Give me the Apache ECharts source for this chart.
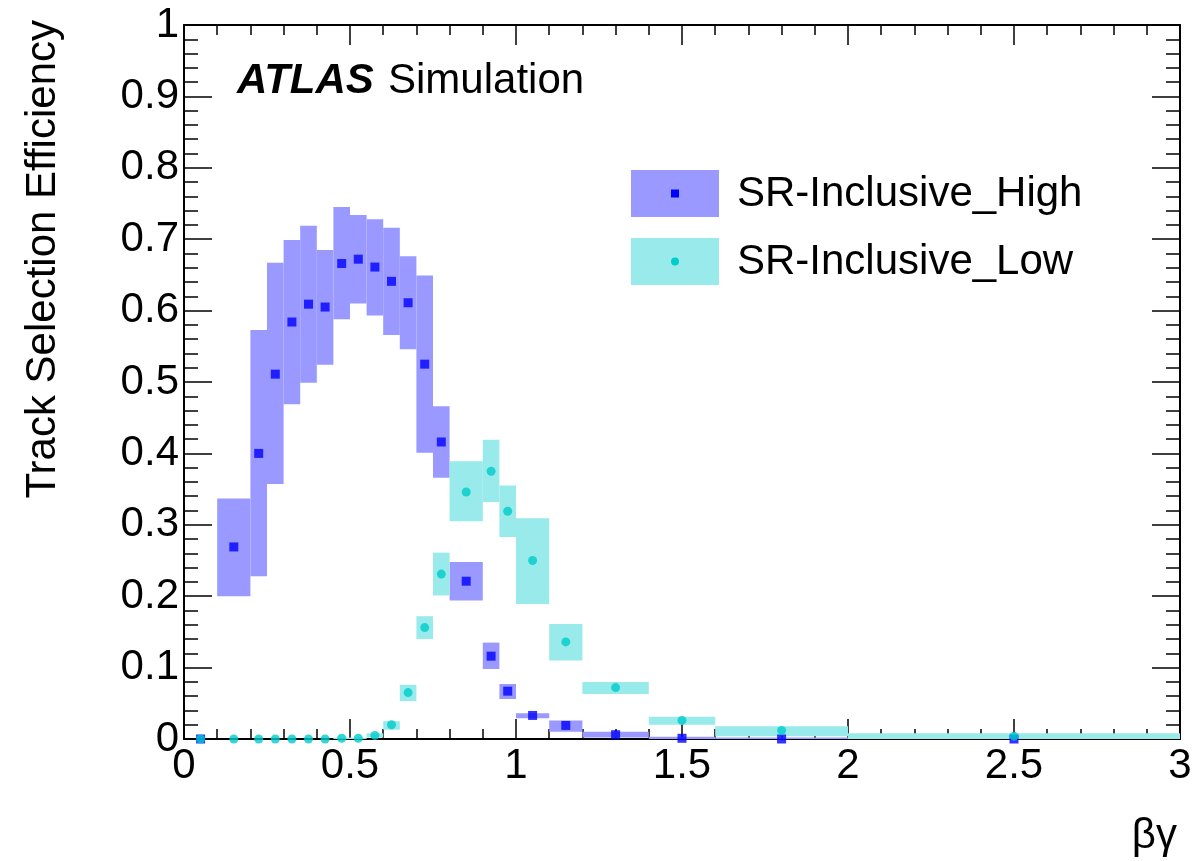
<!DOCTYPE html>
<html>
<head>
<meta charset="utf-8">
<script src="https://cdn.jsdelivr.net/npm/echarts@6/dist/echarts.min.js"></script>
<style>
html, body { margin: 0; padding: 0; background: #fff; }
#chart { width: 1204px; height: 861px; }
</style>
</head>
<body>
<div id="chart"></div>
<script>
// bin edges (beta*gamma)
const binLo = [0, 0.1, 0.2, 0.25, 0.3, 0.35, 0.4, 0.45, 0.5, 0.55, 0.6, 0.65, 0.7, 0.75, 0.8, 0.9, 0.95, 1.0, 1.1, 1.2, 1.4, 1.6, 2.0];
const binHi = [0.1, 0.2, 0.25, 0.3, 0.35, 0.4, 0.45, 0.5, 0.55, 0.6, 0.65, 0.7, 0.75, 0.8, 0.9, 0.95, 1.0, 1.1, 1.2, 1.4, 1.6, 2.0, 3.0];

// SR-Inclusive_High
const highVal  = [0, 0.269, 0.400, 0.511, 0.584, 0.609, 0.605, 0.666, 0.672, 0.661, 0.641, 0.611, 0.525, 0.416, 0.221, 0.116, 0.067, 0.033, 0.019, 0.006, 0.001, 0.000, 0.000];
const highDown = [0, 0.200, 0.228, 0.357, 0.469, 0.499, 0.524, 0.588, 0.610, 0.593, 0.566, 0.546, 0.401, 0.366, 0.194, 0.098, 0.056, 0.029, 0.010, 0.002, 0.000, 0.000, 0.000];
const highUp   = [0, 0.337, 0.573, 0.667, 0.699, 0.719, 0.685, 0.745, 0.734, 0.728, 0.716, 0.676, 0.649, 0.466, 0.248, 0.135, 0.077, 0.036, 0.026, 0.010, 0.003, 0.002, 0.001];

// SR-Inclusive_Low
const lowVal  = [0, 0, 0, 0, 0, 0, 0, 0.001, 0.001, 0.005, 0.020, 0.065, 0.156, 0.231, 0.346, 0.375, 0.319, 0.250, 0.136, 0.072, 0.026, 0.012, 0.004];
const lowDown = [0, 0, 0, 0, 0, 0, 0, 0.000, 0.000, 0.002, 0.013, 0.053, 0.140, 0.201, 0.305, 0.332, 0.283, 0.189, 0.110, 0.063, 0.020, 0.004, 0.000];
const lowUp   = [0, 0, 0, 0, 0, 0, 0, 0.002, 0.002, 0.008, 0.025, 0.076, 0.172, 0.261, 0.389, 0.419, 0.355, 0.309, 0.161, 0.080, 0.031, 0.018, 0.008];

const FONT = "'Liberation Sans', Arial, Helvetica, sans-serif";
const highBandColor = "#9999ff";
const lowBandColor = "#99ebeb";
const highMarkColor = "#0000ff";
const lowMarkColor = "#00cccc";

function bandData(down, up) {
    return binLo.map((lo, i) => [lo, binHi[i], down[i], up[i]]);
}
function pointData(vals) {
    return binLo.map((lo, i) => [(lo + binHi[i]) / 2, vals[i]]);
}
function bandSeries(name, down, up, color) {
    return {
        name: name,
        type: "custom",
        data: bandData(down, up),
        encode: { x: [0, 1], y: [2, 3] },
        clip: false,
        renderItem: function (params, api) {
            let p1 = api.coord([api.value(0), api.value(3)]);
            let p2 = api.coord([api.value(1), api.value(2)]);
            return {
                type: "rect",
                shape: { x: p1[0], y: p1[1], width: p2[0] - p1[0], height: p2[1] - p1[1] },
                style: { fill: color },
            };
        },
    };
}

const xTickCommon = {
    type: "value",
    min: 0,
    max: 3,
    interval: 0.5,
    splitLine: { show: false },
    axisLine: { show: true, onZero: false, lineStyle: { color: "#000", width: 2 } },
    axisTick: { show: true, inside: true, length: 20, lineStyle: { color: "#000", width: 1.5 } },
    minorTick: { show: true, splitNumber: 5, length: 10, lineStyle: { color: "#000", width: 1.5 } },
};
const yTickCommon = {
    type: "value",
    min: 0,
    max: 1,
    interval: 0.1,
    splitLine: { show: false },
    axisLine: { show: true, onZero: false, lineStyle: { color: "#000", width: 2 } },
    axisTick: { show: true, inside: true, length: 28, lineStyle: { color: "#000", width: 1.5 } },
    minorTick: { show: true, splitNumber: 5, length: 14, lineStyle: { color: "#000", width: 1.5 } },
};

let chart = echarts.init(document.getElementById("chart"), null, { renderer: "canvas" });
let option = {
    animation: false,
    backgroundColor: "#fff",
    textStyle: { fontFamily: FONT },
    grid: { left: 184, right: 24, top: 25, bottom: 122, containLabel: false, outerBoundsMode: "none" },
    xAxis: [
        Object.assign({}, xTickCommon, {
            position: "bottom",
            axisLabel: { show: true, fontSize: 42, color: "#000", fontFamily: FONT, margin: 6 },
        }),
        Object.assign({}, xTickCommon, {
            position: "top",
            axisLabel: { show: false },
        }),
    ],
    yAxis: [
        Object.assign({}, yTickCommon, {
            position: "left",
            axisLabel: { show: true, fontSize: 42, color: "#000", fontFamily: FONT, margin: 5 },
        }),
        Object.assign({}, yTickCommon, {
            position: "right",
            axisLabel: { show: false },
        }),
    ],
    series: [
        bandSeries("SR-Inclusive_High band", highDown, highUp, highBandColor),
        {
            name: "SR-Inclusive_High",
            type: "scatter",
            symbol: "rect",
            symbolSize: 9,
            clip: false,
            itemStyle: { color: highMarkColor },
            data: pointData(highVal),
        },
        bandSeries("SR-Inclusive_Low band", lowDown, lowUp, lowBandColor),
        {
            name: "SR-Inclusive_Low",
            type: "scatter",
            symbol: "circle",
            symbolSize: 9,
            clip: false,
            itemStyle: { color: lowMarkColor },
            data: pointData(lowVal),
        },
    ],
    graphic: [
        // y axis title
        {
            type: "text",
            x: 43,
            y: 20,
            rotation: Math.PI / 2,
            style: { text: "Track Selection Efficiency", font: "42px " + FONT, fill: "#000", align: "right", verticalAlign: "middle" },
        },
        // x axis title
        {
            type: "text",
            x: 1177,
            y: 836,
            style: { text: "βγ", font: "42px " + FONT, fill: "#000", align: "right", verticalAlign: "middle" },
        },
        // ATLAS label
        {
            type: "text",
            x: 237,
            y: 81,
            style: { text: "ATLAS", font: "italic bold 42px " + FONT, fill: "#000", align: "left", verticalAlign: "middle" },
        },
        {
            type: "text",
            x: 388,
            y: 81,
            style: { text: "Simulation", font: "42px " + FONT, fill: "#000", align: "left", verticalAlign: "middle" },
        },
        // legend
        { type: "rect", shape: { x: 631, y: 170, width: 88, height: 47 }, style: { fill: highBandColor } },
        { type: "rect", shape: { x: 671, y: 189.5, width: 8, height: 8 }, style: { fill: highMarkColor } },
        {
            type: "text",
            x: 737,
            y: 194,
            style: { text: "SR-Inclusive_High", font: "42px " + FONT, fill: "#000", align: "left", verticalAlign: "middle" },
        },
        { type: "rect", shape: { x: 631, y: 238, width: 88, height: 47 }, style: { fill: lowBandColor } },
        { type: "circle", shape: { cx: 675, cy: 261.5, r: 4 }, style: { fill: lowMarkColor } },
        {
            type: "text",
            x: 737,
            y: 262,
            style: { text: "SR-Inclusive_Low", font: "42px " + FONT, fill: "#000", align: "left", verticalAlign: "middle" },
        },
    ],
};
chart.setOption(option);
</script>
</body>
</html>
